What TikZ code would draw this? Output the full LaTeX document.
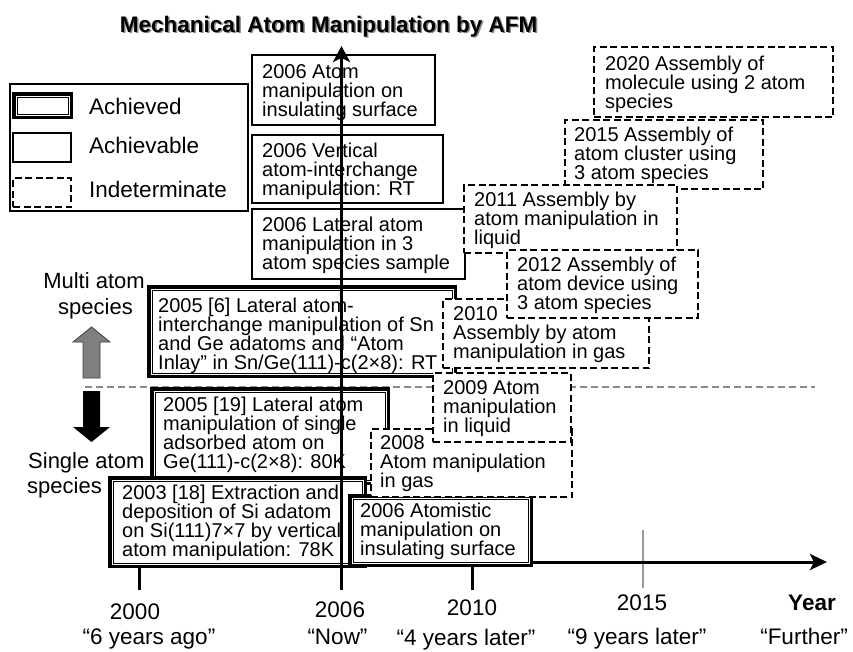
\documentclass[tikz,border=0pt]{standalone}
\usepackage{fontspec}
\setmainfont{Liberation Sans}
\usetikzlibrary{arrows.meta}
\newcommand\boxlines[1]{\vtop{\baselineskip=19pt\lineskiplimit=-100pt\let\\=\cr\halign{##\hfil\cr#1\crcr}}}
\definecolor{sepgray}{HTML}{8A8A8A}
\definecolor{tickgray}{HTML}{999999}
\definecolor{arrgray}{HTML}{7F7F7F}
\tikzset{
  solidbox/.style={draw, fill=white, line width=1.2pt, inner sep=0pt},
  dashbox/.style={draw, fill=white, line width=1.6pt, dash pattern=on 7pt off 3.5pt, inner sep=0pt},
  achbox/.style={draw, fill=white, line width=1pt, double=white, double distance=1pt,
                 preaction={draw=black, line width=8pt}, inner sep=0pt},
  boxtxt/.style={inner sep=0pt, anchor=base west, font=\fontsize{20}{19}\selectfont},
  legtxt/.style={inner sep=0pt, anchor=base west, font=\fontsize{22.5}{27}\selectfont},
  axtxt/.style={inner sep=0pt, anchor=base, font=\fontsize{22.5}{27}\selectfont},
  sidetxt/.style={inner sep=0pt, font=\fontsize{22}{26}\selectfont},
  axisline/.style={line width=3pt},
  separator/.style={draw=sepgray, line width=1.5pt, dash pattern=on 7pt off 4pt},
  titletxt/.style={inner sep=0pt, anchor=base, font=\fontsize{22.5}{27}\selectfont\bfseries},
}
\begin{document}
\begin{tikzpicture}[x=1pt, y=-1pt]
\useasboundingbox[fill=white] (0,0) rectangle (853,651);

% legend
\node[solidbox, fill=none, minimum width=238pt, minimum height=127pt] (legend) at (129,147.5) {};
\node[achbox, minimum width=53pt, minimum height=19pt] (legA) at (42.5,105.5) {};
\node[solidbox, minimum width=58pt, minimum height=29pt] (legB) at (42,147.5) {};
\node[dashbox, minimum width=58pt, minimum height=29pt] (legC) at (42,192.5) {};
\node[legtxt] (legAt) at (89,114.5) {Achieved};
\node[legtxt] (legBt) at (89,153) {Achievable};
\node[legtxt] (legCt) at (89,197) {Indeterminate};

% separator between multi / single
\coordinate (sepL) at (85,387);
\coordinate (sepR) at (815,387);
\draw[separator] (sepL) -- (sepR);

% axis and ticks
\coordinate (axL) at (140,562);
\coordinate (axR) at (827,562);
\coordinate (t00a) at (139.5,562); \coordinate (t00b) at (139.5,590);
\coordinate (t10a) at (472.5,562); \coordinate (t10b) at (472.5,590);
\coordinate (t15a) at (643,530);   \coordinate (t15b) at (643,588);
\draw[draw=tickgray, line width=2.2pt] (t15a) -- (t15b);
\draw[axisline, -{Stealth[length=17pt, width=16pt, inset=4pt]}] (axL) -- (axR);
\draw[axisline] (t00a) -- (t00b);
\draw[axisline] (t10a) -- (t10b);

% side block arrows
\draw[fill=arrgray, draw=black!75, line width=0.8pt]
  (73,342) -- (91.5,327) -- (110,342) -- (100,342) -- (100,378) -- (83,378) -- (83,342) -- cycle;
\fill[black]
  (83,391) -- (100,391) -- (100,427) -- (110,427) -- (91.5,442) -- (73,427) -- (83,427) -- cycle;

\node[sidetxt, anchor=base] (multiA) at (94,288) {Multi atom};
\node[sidetxt, anchor=base] (multiB) at (95.5,314) {species};
\node[sidetxt, anchor=base west] (singleA) at (28,468) {Single atom};
\node[sidetxt, anchor=base west] (singleB) at (27,493) {species};

% achieved boxes
\node[achbox, minimum width=302pt, minimum height=85pt] (b56) at (302,331.5) {};
\node[boxtxt] (t56) at (158,312) {\boxlines{2005 [6] Lateral atom-\\interchange manipulation of Sn\\and Ge adatoms and “Atom\\Inlay” in Sn/Ge(111)-c(2×8): RT}};
\node[achbox, minimum width=232pt, minimum height=90pt] (b519) at (270,436) {};
\node[boxtxt] (t519) at (163,411) {\boxlines{2005 [19] Lateral atom\\manipulation of single\\adsorbed atom on\\Ge(111)-c(2×8): 80K}};
\node[achbox, minimum width=251pt, minimum height=84pt] (b03) at (237.5,522) {};
\node[boxtxt] (t03) at (122,499) {\boxlines{2003 [18] Extraction and\\deposition of Si adatom\\on Si(111)7×7 by vertical\\atom manipulation: 78K}};
\node[achbox, minimum width=177pt, minimum height=65pt] (b06) at (440.5,530.5) {};
\node[boxtxt] (t06) at (360,517) {\boxlines{2006 Atomistic\\manipulation on\\insulating surface}};

% lower dashed boxes
\node[dashbox, minimum width=201pt, minimum height=68pt] (b08) at (471.5,463) {};
\node[boxtxt] (t08) at (380,449) {\boxlines{2008\\Atom manipulation\\in gas}};
\node[dashbox, minimum width=138pt, minimum height=69pt] (b09) at (502,407.5) {};
\node[boxtxt] (t09) at (443,394) {\boxlines{2009 Atom\\manipulation\\in liquid}};

% achievable boxes (2006)
\node[solidbox, minimum width=183pt, minimum height=70pt] (bA) at (343.5,90) {};
\node[boxtxt] (tA) at (262,78) {\boxlines{2006 Atom\\manipulation on\\insulating surface}};
\node[solidbox, minimum width=191pt, minimum height=68pt] (bV) at (347.5,169) {};
\node[boxtxt] (tV) at (262,157) {\boxlines{2006 Vertical\\atom-interchange\\manipulation: RT}};
\node[solidbox, minimum width=213pt, minimum height=70pt] (bL) at (358.5,244) {};
\node[boxtxt] (tL) at (262,231) {\boxlines{2006 Lateral atom\\manipulation in 3\\atom species sample}};

% upper dashed boxes
\node[dashbox, minimum width=239pt, minimum height=70pt] (b20) at (713.5,82) {};
\node[boxtxt] (t20) at (605,70) {\boxlines{2020 Assembly of\\molecule using 2 atom\\species}};
\node[dashbox, minimum width=198pt, minimum height=69pt] (b15) at (664,154.5) {};
\node[boxtxt] (t15) at (574,141) {\boxlines{2015 Assembly of\\atom cluster using\\3 atom species}};
\node[dashbox, minimum width=213pt, minimum height=68pt] (b11) at (570.5,219) {};
\node[boxtxt] (t11) at (474,206) {\boxlines{2011 Assembly by\\atom manipulation in\\liquid}};
\node[dashbox, minimum width=206pt, minimum height=69pt] (b10) at (546,333.5) {};
\node[boxtxt] (t10) at (453,320) {\boxlines{2010\\Assembly by atom\\manipulation in gas}};
\node[dashbox, minimum width=191pt, minimum height=68pt] (b12) at (602.5,284) {};
\node[boxtxt] (t12) at (517,271) {\boxlines{2012 Assembly of\\atom device using\\3 atom species}};

% vertical "now" arrow
\coordinate (vbot) at (341.5,590);
\coordinate (vtop) at (341.5,46);
\draw[axisline, -{Stealth[length=16pt, width=17pt, inset=4pt]}] (vbot) -- (vtop);

% title with shadow
\node[titletxt, text=black!45] (titleshadow) at (330.2,33.5) {Mechanical Atom Manipulation by AFM};
\node[titletxt] (title) at (328.7,32) {Mechanical Atom Manipulation by AFM};

% axis labels
\node[axtxt] (y2000) at (135,619) {2000};
\node[axtxt] (q2000) at (149,644) {“6 years ago”};
\node[axtxt] (y2006) at (340,617) {2006};
\node[axtxt] (q2006) at (337.5,644) {“Now”};
\node[axtxt] (y2010) at (472,615) {2010};
\node[axtxt] (q2010) at (466,645) {“4 years later”};
\node[axtxt] (y2015) at (642,610) {2015};
\node[axtxt] (q2015) at (637,644) {“9 years later”};
\node[axtxt, font=\fontsize{22.5}{27}\selectfont\bfseries] (yfur) at (812,610) {Year};
\node[axtxt] (qfur) at (804,644) {“Further”};
\end{tikzpicture}
\end{document}
